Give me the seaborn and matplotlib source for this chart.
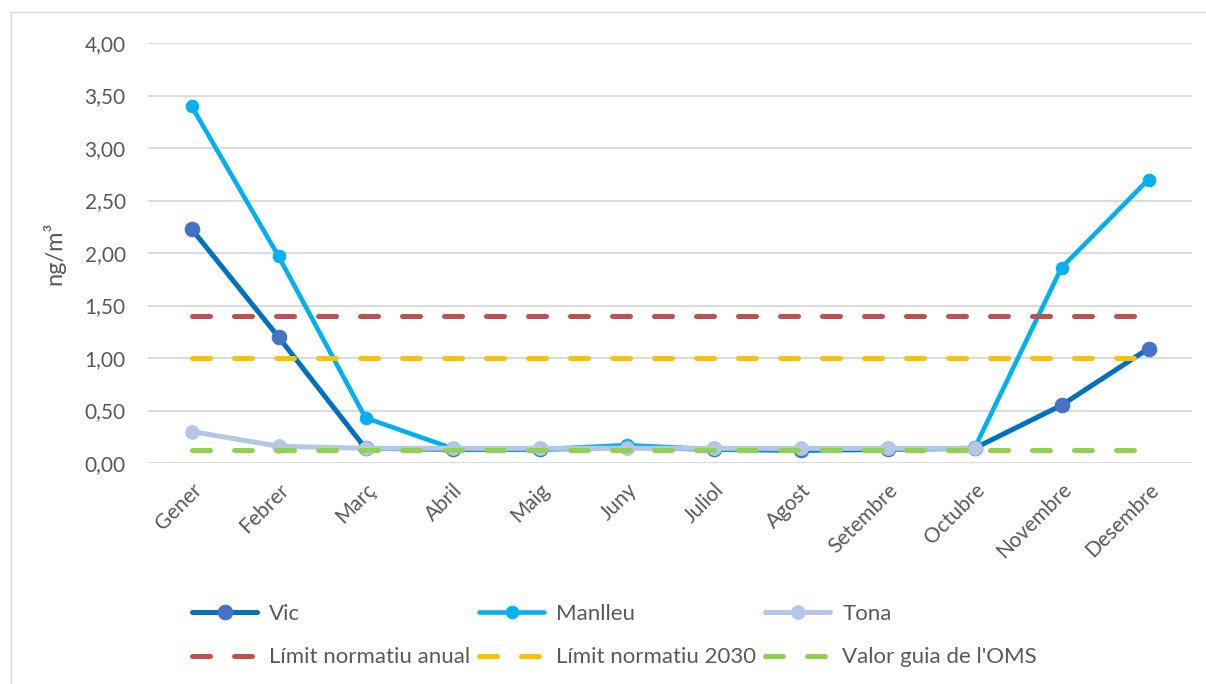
import numpy as np
import pandas as pd
import matplotlib
matplotlib.use("Agg")
import matplotlib.pyplot as plt
from matplotlib.lines import Line2D
import seaborn as sns

# Monthly concentrations (ng/m³)
months = ["Gener", "Febrer", "Març", "Abril", "Maig", "Juny", "Juliol",
          "Agost", "Setembre", "Octubre", "Novembre", "Desembre"]
vic = [2.23, 1.20, 0.14, 0.13, 0.13, 0.15, 0.13, 0.12, 0.13, 0.14, 0.55, 1.09]
manlleu = [3.40, 1.97, 0.43, 0.14, 0.13, 0.17, 0.13, 0.13, 0.14, 0.14, 1.86, 2.70]
tona = [0.30, 0.16, 0.14, 0.14, 0.14, 0.14, 0.14, 0.14, 0.14, 0.14, np.nan, np.nan]

# Reference thresholds (ng/m³)
limit_anual = 1.40
limit_2030 = 1.00
guia_oms = 0.12

yticks = [0.0, 0.5, 1.0, 1.5, 2.0, 2.5, 3.0, 3.5, 4.0]

sns.set_theme(style="white")
plt.rcParams["font.family"] = ["Lato", "DejaVu Sans"]
text_color = "#595959"

fig = plt.figure(figsize=(12.06, 6.84), dpi=100)
ax = fig.add_axes([148 / 1206, 1 - 463 / 684, 1044 / 1206, 420 / 684])

pos = np.arange(len(months))
df = pd.DataFrame({"pos": pos, "Vic": vic, "Manlleu": manlleu, "Tona": tona,
                   "anual": [limit_anual] * len(months),
                   "y2030": [limit_2030] * len(months),
                   "oms": [guia_oms] * len(months)})

sns.lineplot(data=df, x="pos", y="Vic", ax=ax, sort=False, color="#0070C0",
             linewidth=3.6, marker="o", markersize=10.5,
             markerfacecolor="#4472C4", markeredgecolor="#4472C4", label="Vic")
sns.lineplot(data=df, x="pos", y="Manlleu", ax=ax, sort=False, color="#00B0F0",
             linewidth=3.3, marker="o", markersize=9,
             markerfacecolor="#00B0F0", markeredgecolor="#00B0F0", label="Manlleu")
sns.lineplot(data=df, x="pos", y="Tona", ax=ax, sort=False, color="#B4C7E7",
             linewidth=3.6, marker="o", markersize=9.8,
             markerfacecolor="#B4C7E7", markeredgecolor="#B4C7E7", label="Tona")

dash = (0, (3.6, 4.8))
for col, c, lab in [("anual", "#C0504D", "Límit normatiu anual"),
                    ("y2030", "#FFC000", "Límit normatiu 2030"),
                    ("oms", "#92D050", "Valor guia de l'OMS")]:
    sns.lineplot(data=df, x="pos", y=col, ax=ax, sort=False, color=c,
                 linewidth=3.6, linestyle=dash, dash_capstyle="round", label=lab)

ax.set_xlim(-0.5, len(months) - 0.5)
ax.set_ylim(0, 4)
ax.set_yticks(yticks)
ax.set_yticklabels([f"{v:.2f}".replace(".", ",") for v in yticks])
ax.set_xticks(pos)
ax.set_xticklabels(months, rotation=45, ha="right", rotation_mode="anchor")
ax.grid(axis="y", color="#D9D9D9", linewidth=1.3)
ax.set_axisbelow(True)
for s in ax.spines.values():
    s.set_visible(False)
ax.tick_params(axis="y", length=0, pad=16, labelsize=15, labelcolor=text_color)
ax.tick_params(axis="x", length=0, pad=12, labelsize=15, labelcolor=text_color)
ax.set_xlabel("")
ax.set_ylabel("ng/m³", fontsize=17, color=text_color, labelpad=14)

handles, labels = ax.get_legend_handles_labels()
order = [0, 3, 1, 4, 2, 5]
ax.legend([handles[i] for i in order], [labels[i] for i in order],
          ncol=3, loc="upper left", bbox_to_anchor=(192 / 1206, 1 - 604 / 684),
          bbox_transform=fig.transFigure, frameon=False, fontsize=16,
          labelcolor=text_color, handlelength=2.93, handletextpad=0.54,
          columnspacing=0.4, labelspacing=1.05, borderpad=0, borderaxespad=0)

# Chart area border
fig.add_artist(Line2D([11 / 1206, 11 / 1206], [0, 1 - 12 / 684],
                      transform=fig.transFigure, color="#D9D9D9", linewidth=1))
fig.add_artist(Line2D([11 / 1206, 1], [1 - 12 / 684, 1 - 12 / 684],
                      transform=fig.transFigure, color="#D9D9D9", linewidth=1))

fig.savefig("out.png", dpi=100)
